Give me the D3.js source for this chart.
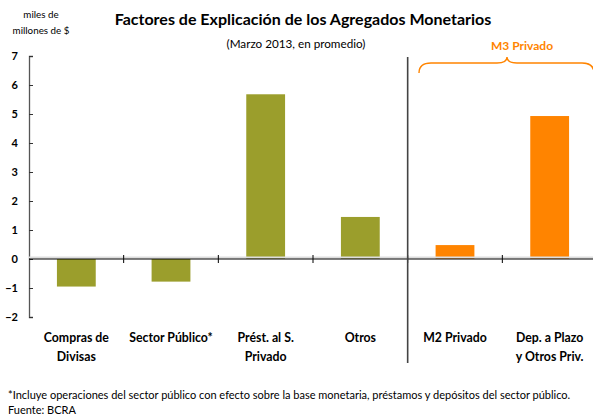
<!DOCTYPE html>
<html>
<head>
<meta charset="utf-8">
<script src="https://cdn.jsdelivr.net/npm/d3@7"></script>
<style>
  body { margin: 0; background: #fff; }
  text { font-family: Lato, "Open Sans", sans-serif; }
</style>
</head>
<body>
<svg></svg>
<script>
// chart data (miles de millones de $)
var categories = ["Compras de|Divisas", "Sector Público*", "Prést. al S.|Privado", "Otros", "M2 Privado", "Dep. a Plazo|y Otros Priv."];
var values = [-0.95, -0.78, 5.68, 1.45, 0.48, 4.93];
var groups = ["base", "base", "base", "base", "m3", "m3"];
var yTicks = [-2, -1, 0, 1, 2, 3, 4, 5, 6, 7];

var width = 593;
var height = 417;
var colors = { base: "#9b9e2c", m3: "#ff8400" };

var svg = d3.select("svg")
      .attr("width", width)
      .attr("height", height);

// scales
var xScale = d3.scaleBand()
      .domain(categories)
      .range([29, 597])
      .paddingInner(0.59)
      .paddingOuter(0.295);

var yScale = d3.scaleLinear()
      .domain([-2, 7])
      .range([317, 56]);

// titles
svg.append("text")
      .attr("x", 303).attr("y", 25)
      .style("text-anchor", "middle")
      .style("font-weight", "bold")
      .style("font-size", "16px")
      .text("Factores de Explicación de los Agregados Monetarios");
svg.append("text")
      .attr("x", 296).attr("y", 48)
      .style("text-anchor", "middle")
      .style("font-size", "11.7px")
      .text("(Marzo 2013, en promedio)");

// units label
svg.append("text").attr("x", 41).attr("y", 18)
      .style("text-anchor", "middle").style("font-size", "9.8px").text("miles de");
svg.append("text").attr("x", 41).attr("y", 34)
      .style("text-anchor", "middle").style("font-size", "9.8px").text("millones de $");

// y axis
var yAxis = d3.axisRight(yScale)
      .tickValues(yTicks)
      .tickSize(4)
      .tickFormat(d3.format("d"));
var gy = svg.append("g")
      .attr("transform", "translate(29,0)")
      .call(yAxis);
gy.select(".domain").attr("stroke", "#555").attr("stroke-width", 1.3);
gy.selectAll(".tick line").attr("stroke", "#333");
gy.selectAll(".tick text")
      .attr("x", -11)
      .attr("dy", "0.35em")
      .style("text-anchor", "end")
      .style("font-weight", "bold")
      .style("font-size", "11px")
      .style("fill", "#000");

// bars
svg.append("g")
      .selectAll("rect")
      .data(categories)
      .enter()
      .append("rect")
            .attr("x", d => xScale(d))
            .attr("width", xScale.bandwidth())
            .attr("y", (d, i) => yScale(Math.max(0, values[i])))
            .attr("height", (d, i) => Math.abs(yScale(values[i]) - yScale(0)))
            .style("fill", (d, i) => colors[groups[i]]);

// zero line with category ticks
var step = xScale.step();
var y0 = yScale(0);
svg.append("line")
      .attr("x1", 29).attr("x2", width)
      .attr("y1", y0 - 1.5).attr("y2", y0 - 1.5)
      .attr("stroke", "#ddd").attr("stroke-width", 2);
svg.append("line")
      .attr("x1", 29).attr("x2", width)
      .attr("y1", y0).attr("y2", y0)
      .attr("stroke", "#000").attr("stroke-width", 1);
svg.append("g")
      .selectAll("line")
      .data(categories.slice(1))
      .enter()
      .append("line")
            .attr("x1", d => xScale(d) - step * 0.295)
            .attr("x2", d => xScale(d) - step * 0.295)
            .attr("y1", y0 - 4).attr("y2", y0 + 4)
            .attr("stroke", "#000");

// category labels
var labels = svg.append("g")
      .selectAll("text")
      .data(categories)
      .enter()
      .append("text")
            .attr("x", d => xScale(d) + xScale.bandwidth() / 2)
            .attr("y", 342)
            .style("text-anchor", "middle")
            .style("font-weight", "bold")
            .style("font-size", "12.3px");
labels.each(function(d) {
      var parts = d.split("|");
      var t = d3.select(this);
      parts.forEach(function(p, j) {
            t.append("tspan")
                  .attr("x", t.attr("x"))
                  .attr("dy", j === 0 ? 0 : 19)
                  .text(p);
      });
});

// separator between groups
var sepX = xScale(categories[4]) - step * 0.295;
svg.append("line")
      .attr("x1", sepX).attr("x2", sepX)
      .attr("y1", 57).attr("y2", 363)
      .attr("stroke", "#444").attr("stroke-width", 1.6);

// M3 brace
var bx0 = 419, bx1 = 594, bTip = 507;
svg.append("path")
      .attr("d", "M" + bx0 + ",73 Q" + bx0 + ",63 " + (bx0 + 12) + ",63 L" + (bTip - 10) + ",63 Q" + bTip + ",63 " + bTip + ",57 Q" + bTip + ",63 " + (bTip + 10) + ",63 L" + (bx1 - 12) + ",63 Q" + bx1 + ",63 " + bx1 + ",73")
      .attr("fill", "none")
      .attr("stroke", colors.m3)
      .attr("stroke-width", 1.4);
svg.append("text")
      .attr("x", 522).attr("y", 50)
      .style("text-anchor", "middle")
      .style("font-weight", "bold")
      .style("font-size", "12px")
      .style("fill", colors.m3)
      .text("M3 Privado");

// footnotes
svg.append("text").attr("x", 8).attr("y", 399)
      .style("font-size", "11px")
      .text("*Incluye operaciones del sector público con efecto sobre la base monetaria, préstamos y depósitos del sector público.");
svg.append("text").attr("x", 8).attr("y", 414)
      .style("font-size", "11px")
      .text("Fuente: BCRA");
</script>
</body>
</html>
